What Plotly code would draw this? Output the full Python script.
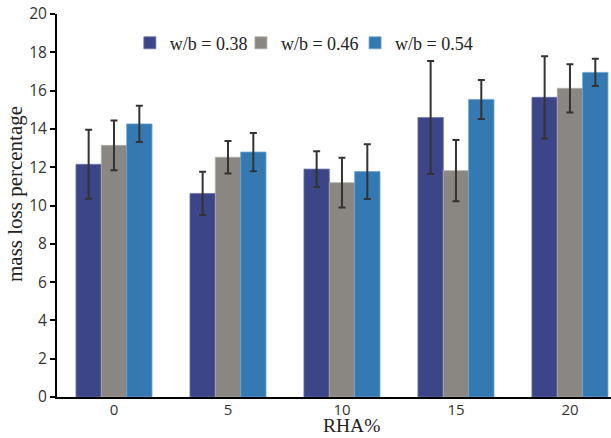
import plotly.graph_objects as go

categories = ["0", "5", "10", "15", "20"]
series_names = ["w/b = 0.38", "w/b = 0.46", "w/b = 0.54"]
values_038 = [12.15, 10.63, 11.9, 14.59, 15.65]
values_046 = [13.14, 12.52, 11.19, 11.82, 16.12]
values_054 = [14.26, 12.79, 11.77, 15.54, 16.95]
errors_038 = [1.8, 1.13, 0.93, 2.95, 2.15]
errors_046 = [1.3, 0.85, 1.3, 1.6, 1.26]
errors_054 = [0.95, 1.0, 1.43, 1.02, 0.71]
colors = ["#3c4588", "#8a8681", "#3579b2"]
outline = ["#6b72a8", "#b0aca8", "#6aa3d2"]
y_ticks = [0, 2, 4, 6, 8, 10, 12, 14, 16, 18, 20]
x_title = "RHA%"
y_title = "mass loss percentage"

legend_ids = ["legend", "legend2", "legend3"]
legend_x = [0.1315, 0.332, 0.538]

fig = go.Figure()
for name, vals, errs, c, oc, lg in zip(series_names,
                                      [values_038, values_046, values_054],
                                      [errors_038, errors_046, errors_054],
                                      colors, outline, legend_ids):
    fig.add_trace(go.Bar(
        x=categories, y=vals, name=name, legend=lg,
        marker=dict(color=c, line=dict(color=oc, width=0.8)),
        error_y=dict(type="data", array=errs, visible=True,
                     color="#333333", thickness=2, width=3.5),
    ))

serif = "Liberation Serif"
legend_style = dict(orientation="h", y=0.924, xanchor="left", yanchor="middle",
                    font=dict(family=serif, size=18, color="#222222"),
                    bgcolor="rgba(0,0,0,0)", itemwidth=30)

fig.update_layout(
    width=611, height=438,
    margin=dict(l=57, r=0, t=14, b=41),
    paper_bgcolor="white", plot_bgcolor="white",
    barmode="group", bargap=0.333, bargroupgap=0,
    showlegend=True,
    legend=dict(x=legend_x[0], **legend_style),
    legend2=dict(x=legend_x[1], **legend_style),
    legend3=dict(x=legend_x[2], **legend_style),
    xaxis=dict(
        range=[-0.5, 4.36], showline=True, linecolor="black", linewidth=2,
        ticks="", showgrid=False, zeroline=False, ticklabelstandoff=-2,
        tickfont=dict(family="Open Sans", size=15, color="#333333"),
    ),
    yaxis=dict(
        range=[0, 20], tickvals=y_ticks, showline=True, linecolor="black", linewidth=2,
        ticks="outside", ticklen=5, tickwidth=2, tickcolor="black",
        showgrid=False, zeroline=False,
        tickfont=dict(family="Open Sans", size=15.5, color="#333333"),
    ),
    annotations=[
        dict(text=x_title, xref="paper", yref="paper", x=0.531, y=-0.107,
             xanchor="center", yanchor="bottom", showarrow=False,
             font=dict(family=serif, size=19.5, color="#222222")),
        dict(text=y_title, xref="paper", yref="paper", x=-0.0758, y=0.530,
             xanchor="center", yanchor="middle", showarrow=False, textangle=-90,
             font=dict(family=serif, size=21, color="#222222")),
    ],
)

fig.write_html("out.html")
